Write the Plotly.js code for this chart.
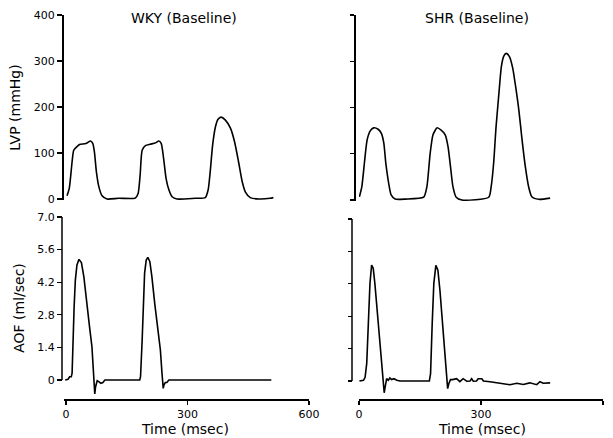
<!DOCTYPE html>
<html>
<head>
<meta charset="utf-8">
<script src="https://cdn.plot.ly/plotly-3.0.1.min.js"></script>
<style>html,body{margin:0;padding:0;background:#fff;}#chart{width:613px;height:438px;}</style>
</head>
<body>
<div id="chart"></div>
<script>
// ---- data ----
const panelTitles = ["WKY (Baseline)", "SHR (Baseline)"];
const timeTitle = "Time (msec)";
const timeTicks = [0, 300, 600];
const timeTickText = ["0", "300", "600"];
const lvpTicks = [0, 100, 200, 300, 400];
const lvpTickText = ["0", "100", "200", "300", "400"];
const aofTicks = [0, 1.4, 2.8, 4.2, 5.6, 7.0];
const aofTickText = ["0", "1.4", "2.8", "4.2", "5.6", "7.0"];

// WKY left-ventricular pressure (mmHg) vs time (ms)
const wkyLvpT = [2.5, 8, 15, 19, 27, 35, 46, 54, 60, 66, 70, 75, 81, 89, 101, 130, 171, 178, 183, 188, 196, 208, 221, 229, 235, 241, 247, 254, 262, 274, 319, 344, 351, 356, 362, 369, 375, 383, 393, 406, 416, 426, 435, 443, 455, 476, 504, 512];
const wkyLvp  = [7, 23, 81, 106, 114, 119, 120, 123, 126, 121, 103, 59, 27, 7, 0, 1.5, 2, 12, 52, 106, 116, 119, 122, 126, 121, 88, 45, 20, 5, 0, 1.5, 3, 20, 59, 117, 157, 173, 178, 172, 154, 125, 81, 38, 15, 3, 0, 1.5, 3];

// SHR left-ventricular pressure (mmHg) vs time (ms)
const shrLvpT = [1, 7, 14, 20, 28, 36, 47, 55, 61, 66, 73, 79, 89, 114, 159, 167, 175, 182, 192, 202, 212, 219, 225, 231, 239, 253, 319, 325, 331, 337, 344, 350, 356, 362, 370, 378, 384, 393, 401, 409, 417, 425, 442, 470];
const shrLvp  = [7, 29, 86, 130, 150, 156, 153, 144, 123, 79, 36, 11, 2, 2, 6, 29, 101, 141, 156, 151, 141, 115, 72, 29, 6, 0, 6, 29, 79, 158, 230, 288, 311, 317, 310, 285, 252, 195, 130, 72, 29, 7, 1.5, 4];

// WKY aortic flow (ml/sec) vs time (ms)
const wkyAofT = [-2, 5, 9, 13, 15, 17, 20, 23, 27, 32, 38, 44, 50, 58, 64, 67, 69, 71, 73, 77, 81, 86, 91, 96, 182, 184, 188, 191, 194, 198, 202, 207, 212, 219, 227, 233, 237, 240, 242, 245, 249, 254, 507];
const wkyAof  = [0, 0.03, 0.14, 0.14, 0.29, 1.72, 3.15, 4.29, 4.94, 5.18, 5.04, 4.44, 3.43, 2.29, 1.43, 0.57, -0.29, -0.6, -0.29, -0.03, -0.07, -0.14, -0.11, 0, 0, 0.14, 1.72, 3.43, 4.58, 5.15, 5.27, 5.08, 4.44, 3.29, 2.15, 1.29, 0.29, -0.36, -0.21, -0.11, -0.11, 0, 0];

// SHR aortic flow (ml/sec) vs time (ms)
const shrAofT = [1, 11, 15, 19, 23, 27, 31, 35, 39, 45, 52, 57, 60, 62, 65, 68, 72, 76, 80, 86, 93, 101, 173, 176, 180, 184, 189, 194, 199, 206, 211, 216, 218, 221, 225, 230, 240, 248, 256, 265, 273, 277, 281, 289, 293, 302, 306, 322, 347, 371, 388, 404, 420, 437, 445, 453, 470];
const shrAof  = [0, 0.03, 0.16, 0.76, 2.49, 4.22, 5.01, 4.87, 4.22, 2.92, 1.48, 0.33, -0.25, -0.51, -0.19, 0.1, 0.03, 0.13, 0.06, 0.1, 0.03, 0, 0, 0.32, 2.48, 4.22, 5.0, 4.79, 3.92, 2.48, 1.18, 0.32, -0.33, -0.11, 0.06, 0.06, 0.1, -0.03, 0.1, -0.01, 0, 0.1, -0.01, 0, 0.1, 0.1, 0, -0.03, -0.1, -0.16, -0.1, -0.15, -0.08, -0.16, -0.03, -0.1, -0.08];

// ---- layout helpers (pixel -> paper) ----
const W = 613, H = 438;
const px = v => v / W;
const py = v => 1 - v / H;
const FONT = "DejaVu Sans, sans-serif";
const lineStyle = {color: "#000", width: 1.6};

const traces = [
  {x: wkyAofT, y: wkyAof, xaxis: "x", yaxis: "y", mode: "lines", line: lineStyle, hoverinfo: "skip"},
  {x: shrAofT, y: shrAof, xaxis: "x2", yaxis: "y2", mode: "lines", line: lineStyle, hoverinfo: "skip"},
  {x: wkyLvpT, y: wkyLvp, xaxis: "x3", yaxis: "y3", mode: "lines", line: Object.assign({shape: "spline", smoothing: 0.6}, lineStyle), hoverinfo: "skip"},
  {x: shrLvpT, y: shrLvp, xaxis: "x4", yaxis: "y4", mode: "lines", line: Object.assign({shape: "spline", smoothing: 0.6}, lineStyle), hoverinfo: "skip"}
];

const tickFont = {family: FONT, size: 11, color: "#000"};
const titleFont = {family: FONT, size: 14, color: "#000"};

const xBase = {
  tickmode: "array", tickvals: timeTicks, ticktext: timeTickText,
  ticks: "outside", ticklen: 4, tickwidth: 1.3, tickcolor: "#000",
  showline: true, linecolor: "#000", linewidth: 1.5,
  showgrid: false, zeroline: false, tickfont: tickFont, automargin: false
};

const layout = {
  width: W, height: H,
  margin: {l: 0, r: 0, t: 0, b: 0},
  paper_bgcolor: "#fff", plot_bgcolor: "rgba(0,0,0,0)",
  showlegend: false,
  font: {family: FONT, color: "#000"},
  xaxis: Object.assign({}, xBase, {domain: [px(64), px(309)], range: [-5, 600], anchor: "y"}),
  xaxis2: Object.assign({}, xBase, {domain: [px(359), px(603)], range: [0, 600], anchor: "y2"}),
  xaxis3: {domain: [px(64), px(309)], range: [-5, 600], visible: false, anchor: "y3"},
  xaxis4: {domain: [px(359), px(603)], range: [0, 600], visible: false, anchor: "y4"},
  yaxis: {
    domain: [py(399), py(217)], range: [-19 / 23.286, 7.0], anchor: "free", position: px(62),
    tickmode: "array", tickvals: aofTicks, ticktext: aofTickText,
    ticks: "outside", ticklen: 5, tickwidth: 1.3, tickcolor: "#000",
    showline: false, showgrid: false, zeroline: false, tickfont: tickFont, automargin: false,
    title: {text: "AOF (ml/sec)", font: titleFont, standoff: 8}
  },
  yaxis2: {
    domain: [py(399), py(219)], range: [-18 / 23.14, 7.0], anchor: "free", position: px(352),
    tickmode: "array", tickvals: aofTicks, showticklabels: false,
    ticks: "outside", ticklen: 4, tickwidth: 1.3, tickcolor: "#000",
    showline: false, showgrid: false, zeroline: false, automargin: false
  },
  yaxis3: {
    domain: [py(200), py(15)], range: [-1 / 0.46, 400], anchor: "free", position: px(62),
    tickmode: "array", tickvals: lvpTicks, ticktext: lvpTickText,
    ticks: "outside", ticklen: 5, tickwidth: 1.3, tickcolor: "#000",
    showline: true, linecolor: "#000", linewidth: 1.5,
    showgrid: false, zeroline: false, tickfont: tickFont, automargin: false,
    title: {text: "LVP (mmHg)", font: titleFont, standoff: 8}
  },
  yaxis4: {
    domain: [py(201), py(15)], range: [-1 / 0.4625, 400], anchor: "free", position: px(354),
    tickmode: "array", tickvals: lvpTicks, showticklabels: false,
    ticks: "outside", ticklen: 4, tickwidth: 1.3, tickcolor: "#000",
    showline: true, linecolor: "#000", linewidth: 1.5,
    showgrid: false, zeroline: false, automargin: false
  },
  shapes: [
    {type: "line", xref: "paper", yref: "y", x0: px(62), x1: px(62), y0: 0, y1: 7.0, line: {color: "#000", width: 1.5}},
    {type: "line", xref: "paper", yref: "y2", x0: px(352), x1: px(352), y0: 0, y1: 7.0, line: {color: "#000", width: 1.5}}
  ],
  annotations: [
    {text: panelTitles[0], xref: "paper", yref: "paper", x: px(184), y: py(18), xanchor: "center", yanchor: "middle", showarrow: false, font: titleFont},
    {text: panelTitles[1], xref: "paper", yref: "paper", x: px(477), y: py(18), xanchor: "center", yanchor: "middle", showarrow: false, font: titleFont},
    {text: timeTitle, xref: "paper", yref: "paper", x: px(185), y: py(438), xanchor: "center", yanchor: "bottom", showarrow: false, font: titleFont, borderpad: 0},
    {text: timeTitle, xref: "paper", yref: "paper", x: px(482), y: py(438), xanchor: "center", yanchor: "bottom", showarrow: false, font: titleFont, borderpad: 0}
  ]
};

Plotly.newPlot("chart", traces, layout, {staticPlot: true, displayModeBar: false});
</script>
</body>
</html>
